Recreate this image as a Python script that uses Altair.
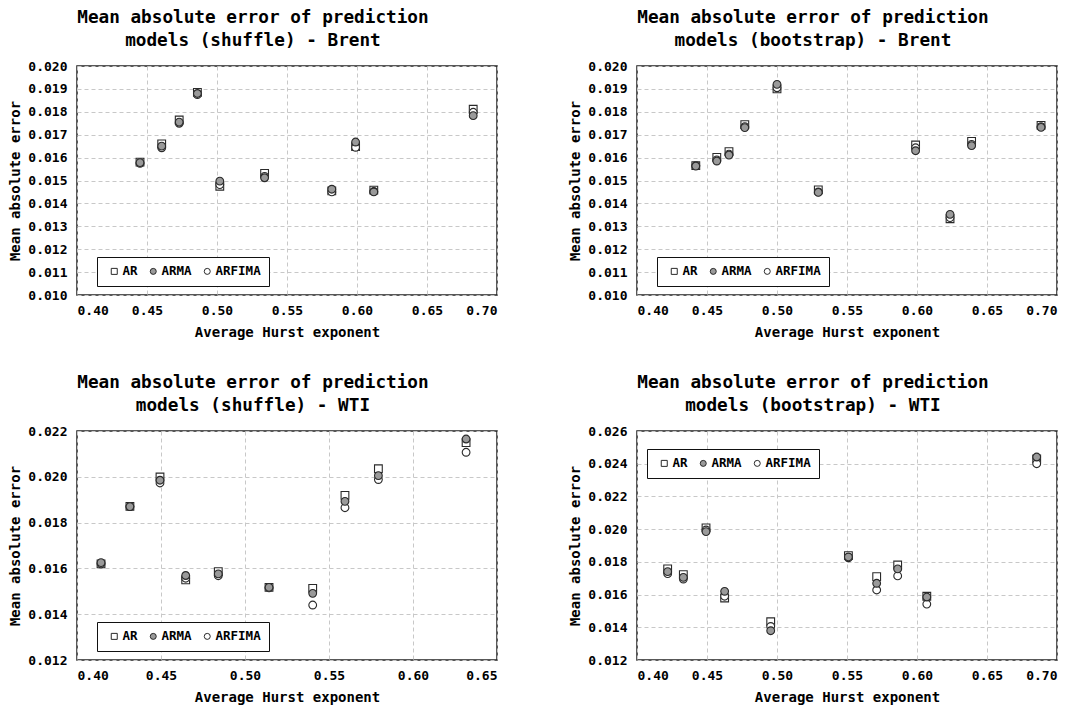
import altair as alt
import pandas as pd

MODELS = ["AR", "ARMA", "ARFIMA"]

# Panel 1: shuffle - Brent
hurst_shuffle_brent = [0.445, 0.4605, 0.473, 0.486, 0.502, 0.534, 0.582, 0.599, 0.612, 0.683]
ar_shuffle_brent = [0.01580, 0.01660, 0.01764, 0.01885, 0.01475, 0.01531, 0.01455, 0.01648, 0.01458, 0.01811]
arma_shuffle_brent = [0.01578, 0.01650, 0.01755, 0.01880, 0.01497, 0.01512, 0.01462, 0.01668, 0.01450, 0.01783]
arfima_shuffle_brent = [0.01575, 0.01643, 0.01750, 0.01875, 0.01482, 0.01518, 0.01450, 0.01645, 0.01452, 0.01798]

# Panel 2: bootstrap - Brent
hurst_boot_brent = [0.442, 0.457, 0.4657, 0.477, 0.500, 0.5295, 0.599, 0.6236, 0.639, 0.6886]
ar_boot_brent = [0.01565, 0.01601, 0.01626, 0.01744, 0.01900, 0.01459, 0.01655, 0.01333, 0.01671, 0.01741]
arma_boot_brent = [0.01563, 0.01585, 0.01611, 0.01731, 0.01920, 0.01448, 0.01630, 0.01352, 0.01652, 0.01732]
arfima_boot_brent = [0.01565, 0.01590, 0.01615, 0.01735, 0.01905, 0.01450, 0.01643, 0.01338, 0.01658, 0.01735]

# Panel 3: shuffle - WTI
hurst_shuffle_wti = [0.4143, 0.4315, 0.4494, 0.4647, 0.4841, 0.5143, 0.5403, 0.5595, 0.5794, 0.6316]
ar_shuffle_wti = [0.01620, 0.01871, 0.01999, 0.01550, 0.01586, 0.01517, 0.01513, 0.01919, 0.02035, 0.02149]
arma_shuffle_wti = [0.01625, 0.01870, 0.01985, 0.01569, 0.01576, 0.01517, 0.01491, 0.01893, 0.02005, 0.02165]
arfima_shuffle_wti = [0.01620, 0.01870, 0.01973, 0.01557, 0.01568, 0.01515, 0.01440, 0.01865, 0.01988, 0.02107]

# Panel 4: bootstrap - WTI
hurst_boot_wti = [0.4219, 0.4331, 0.4493, 0.4626, 0.4955, 0.551, 0.5712, 0.5862, 0.607, 0.6855]
ar_boot_wti = [0.01757, 0.01722, 0.02008, 0.01579, 0.01434, 0.01838, 0.01710, 0.01781, 0.01590, 0.02430]
arma_boot_wti = [0.01740, 0.01705, 0.01985, 0.01620, 0.01379, 0.01830, 0.01669, 0.01757, 0.01585, 0.02441]
arfima_boot_wti = [0.01728, 0.01695, 0.01995, 0.01590, 0.01405, 0.01825, 0.01628, 0.01714, 0.01542, 0.02400]

x_ticks_070 = [0.40, 0.45, 0.50, 0.55, 0.60, 0.65, 0.70]
x_ticks_065 = [0.40, 0.45, 0.50, 0.55, 0.60, 0.65]
y_ticks_brent = [0.010, 0.011, 0.012, 0.013, 0.014, 0.015, 0.016, 0.017, 0.018, 0.019, 0.020]
y_ticks_wti_shuffle = [0.012, 0.014, 0.016, 0.018, 0.020, 0.022]
y_ticks_wti_boot = [0.012, 0.014, 0.016, 0.018, 0.020, 0.022, 0.024, 0.026]

FONT = "DejaVu Sans Mono"


def panel(title_lines, hurst, ar, arma, arfima, xdom, xvals, ydom, yvals, lx, ly):
    rows = []
    for m, vals in [("AR", ar), ("ARFIMA", arfima), ("ARMA", arma)]:
        for xi, yi in zip(hurst, vals):
            rows.append({"hurst": xi, "mae": yi, "model": m})
    df = pd.DataFrame(rows)
    leg = alt.Legend(
        title=None,
        orient="none",
        legendX=lx,
        legendY=ly,
        direction="horizontal",
        strokeColor="#111111",
        fillColor="white",
        padding=8,
        labelFont=FONT,
        labelFontWeight="bold",
        labelFontSize=12.5,
        labelColor="black",
        labelOffset=2,
        columnPadding=6,
        symbolSize=36,
        symbolStrokeWidth=1,
        symbolOffset=3,
    )
    return (
        alt.Chart(
            df,
            title=alt.Title(
                title_lines,
                font=FONT,
                fontSize=17.7,
                fontWeight="bold",
                lineHeight=23,
                color="black",
                offset=10,
                anchor="middle",
                frame="bounds",
            ),
        )
        .mark_point(filled=True, strokeWidth=1.1, size=60, opacity=1)
        .encode(
            x=alt.X(
                "hurst:Q",
                scale=alt.Scale(domain=xdom, nice=False, zero=False),
                axis=alt.Axis(values=xvals, format=".2f", title="Average Hurst exponent",
                              labelPadding=9, titlePadding=8),
            ),
            y=alt.Y(
                "mae:Q",
                scale=alt.Scale(domain=ydom, nice=False, zero=False),
                axis=alt.Axis(values=yvals, format=".3f", title="Mean absolute error"),
            ),
            fill=alt.Fill(
                "model:N",
                scale=alt.Scale(domain=MODELS, range=["white", "#9a9a9a", "white"]),
                legend=leg,
            ),
            stroke=alt.Stroke(
                "model:N",
                scale=alt.Scale(domain=MODELS, range=["#2a2a2a", "#2a2a2a", "#2a2a2a"]),
                legend=leg,
            ),
            shape=alt.Shape(
                "model:N",
                scale=alt.Scale(domain=MODELS, range=["square", "circle", "circle"]),
                legend=leg,
            ),
        )
        .properties(width=420, height=229)
    )


p1 = panel(["Mean absolute error of prediction", "models (shuffle) - Brent"],
           hurst_shuffle_brent, ar_shuffle_brent, arma_shuffle_brent, arfima_shuffle_brent,
           [0.40, 0.70], x_ticks_070, [0.010, 0.020], y_ticks_brent, 20, 191)
p2 = panel(["Mean absolute error of prediction", "models (bootstrap) - Brent"],
           hurst_boot_brent, ar_boot_brent, arma_boot_brent, arfima_boot_brent,
           [0.40, 0.70], x_ticks_070, [0.010, 0.020], y_ticks_brent, 20, 191)
p3 = panel(["Mean absolute error of prediction", "models (shuffle) - WTI"],
           hurst_shuffle_wti, ar_shuffle_wti, arma_shuffle_wti, arfima_shuffle_wti,
           [0.40, 0.65], x_ticks_065, [0.012, 0.022], y_ticks_wti_shuffle, 20, 191)
p4 = panel(["Mean absolute error of prediction", "models (bootstrap) - WTI"],
           hurst_boot_wti, ar_boot_wti, arma_boot_wti, arfima_boot_wti,
           [0.40, 0.70], x_ticks_070, [0.012, 0.026], y_ticks_wti_boot, 10, 18)

chart = (
    alt.concat(p1, p2, p3, p4, columns=2, spacing={"row": 136, "column": 140}, bounds="flush")
    .resolve_scale(fill="independent", shape="independent", stroke="independent")
    .properties(padding=0)
    .configure(background="white")
    .configure_view(stroke="#222222", strokeWidth=1.5)
    .configure_axis(
        grid=True,
        gridColor="#c8c8c8",
        gridDash=[4, 3],
        gridWidth=1,
        ticks=False,
        domain=False,
        labelFont=FONT,
        labelFontWeight="bold",
        labelFontSize=13,
        labelColor="black",
        labelPadding=10,
        labelOverlap=False,
        titleFont=FONT,
        titleFontWeight="bold",
        titleFontSize=14,
        titleColor="black",
        titlePadding=5,
    )
)

chart.save("out.html", embed_options={"renderer": "svg", "actions": False})
